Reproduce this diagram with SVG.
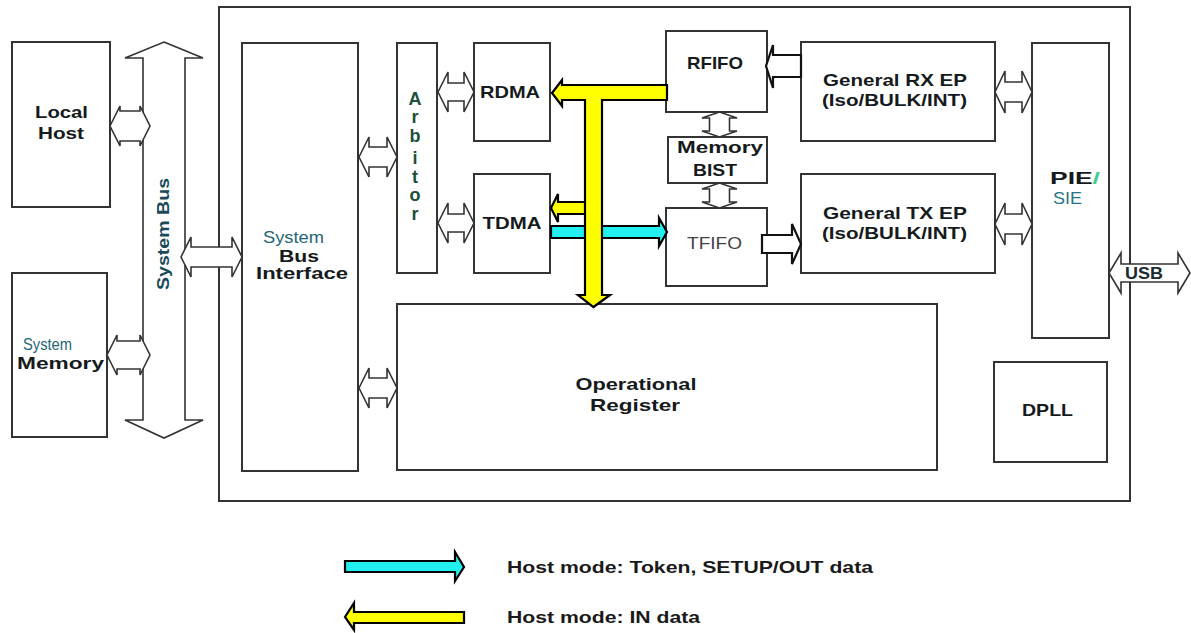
<svg xmlns="http://www.w3.org/2000/svg" width="1191" height="633" viewBox="0 0 1191 633">
<style>
.box{fill:#fff;stroke:#333;stroke-width:2}
.dbl{fill:#fff;stroke:#333;stroke-width:1.6;stroke-linejoin:miter}
.yel{fill:#ffff00;stroke:#000;stroke-width:2.2;stroke-linejoin:miter}
.cya{fill:#22f0f0;stroke:#000;stroke-width:2.2;stroke-linejoin:miter}
.t{font-family:"Liberation Sans",Arial,sans-serif;font-weight:bold;font-size:17px;fill:#151a1c;text-anchor:middle}
.n{font-family:"Liberation Sans",Arial,sans-serif;font-weight:normal;font-size:17px;text-anchor:middle}
.teal{fill:#1f6676}
.lg{font-family:"Liberation Sans",Arial,sans-serif;font-weight:bold;font-size:17px;fill:#1a1a1a}
</style>
<rect width="1191" height="633" fill="#fff"/>

<g id="chip"><rect x="219" y="7" width="911" height="494" class="box"/></g>

<g id="local-host"><rect x="12" y="42" width="98" height="165" class="box"/>
<text x="61.5" y="118" class="t" textLength="53" lengthAdjust="spacingAndGlyphs">Local</text>
<text x="61" y="139" class="t" textLength="46" lengthAdjust="spacingAndGlyphs">Host</text></g>

<g id="system-memory"><rect x="12" y="273" width="95" height="164" class="box"/>
<text x="47.5" y="350" class="n teal" textLength="49" lengthAdjust="spacingAndGlyphs">System</text>
<text x="60.5" y="369" class="t" textLength="87" lengthAdjust="spacingAndGlyphs">Memory</text></g>

<g id="system-bus">
<path d="M164,42 L203,58 L185,58 L185,420 L203,420 L164,438 L125,420 L143,420 L143,58 L125,58 Z" class="dbl"/>
<text transform="translate(169,234) rotate(-90)" x="0" y="0" class="t" style="fill:#1a4a58" textLength="112" lengthAdjust="spacingAndGlyphs">System Bus</text></g>

<g id="system-bus-interface"><rect x="242" y="43" width="116" height="428" class="box"/>
<text x="293.5" y="243" class="n teal" textLength="61" lengthAdjust="spacingAndGlyphs">System</text>
<text x="299" y="262" class="t" textLength="40" lengthAdjust="spacingAndGlyphs">Bus</text>
<text x="302" y="279" class="t" textLength="92" lengthAdjust="spacingAndGlyphs">Interface</text></g>

<g id="arbitor"><rect x="397" y="43" width="40" height="230" class="box"/>
<g class="t" style="fill:#1d4f3c;font-size:18px">
<text x="415" y="105">A</text><text x="415" y="123">r</text><text x="415" y="142">b</text><text x="415" y="164">i</text><text x="415" y="183">t</text><text x="415" y="201">o</text><text x="415" y="220">r</text></g></g>

<g id="rdma"><rect x="474" y="43" width="76" height="98" class="box"/>
<text x="510" y="98" class="t" textLength="60" lengthAdjust="spacingAndGlyphs">RDMA</text></g>

<g id="tdma"><rect x="474" y="174" width="76" height="99" class="box"/>
<text x="512" y="229" class="t" textLength="59" lengthAdjust="spacingAndGlyphs">TDMA</text></g>

<g id="rfifo"><rect x="666" y="31" width="101" height="81" class="box"/>
<text x="715" y="69" class="t" textLength="56" lengthAdjust="spacingAndGlyphs">RFIFO</text></g>

<g id="memory-bist"><rect x="668" y="137" width="99" height="46" class="box"/>
<text x="720" y="153" class="t" textLength="86" lengthAdjust="spacingAndGlyphs">Memory</text>
<text x="715" y="176" class="t" textLength="44" lengthAdjust="spacingAndGlyphs">BIST</text></g>

<g id="tfifo"><rect x="666" y="208" width="101" height="78" class="box"/>
<text x="714.5" y="249" class="n" style="fill:#444" textLength="55" lengthAdjust="spacingAndGlyphs">TFIFO</text></g>

<g id="general-rx-ep"><rect x="801" y="42" width="194" height="99" class="box"/>
<text x="895" y="86" class="t" textLength="144" lengthAdjust="spacingAndGlyphs">General RX EP</text>
<text x="894.5" y="106" class="t" textLength="145" lengthAdjust="spacingAndGlyphs">(Iso/BULK/INT)</text></g>

<g id="general-tx-ep"><rect x="801" y="174" width="194" height="99" class="box"/>
<text x="895" y="219" class="t" textLength="144" lengthAdjust="spacingAndGlyphs">General TX EP</text>
<text x="894.5" y="239" class="t" textLength="145" lengthAdjust="spacingAndGlyphs">(Iso/BULK/INT)</text></g>

<g id="pie-sie"><rect x="1032" y="43" width="77" height="295" class="box"/>
<text x="1050" y="184" class="t" style="text-anchor:start" textLength="50" lengthAdjust="spacingAndGlyphs">PIE<tspan style="fill:#3fcf8f">/</tspan></text>
<text x="1067.5" y="204" class="n" style="fill:#2a7585" textLength="29" lengthAdjust="spacingAndGlyphs">SIE</text></g>

<g id="dpll"><rect x="994" y="362" width="113" height="100" class="box"/>
<text x="1047.5" y="416" class="t" textLength="51" lengthAdjust="spacingAndGlyphs">DPLL</text></g>

<g id="operational-register"><rect x="397" y="304" width="540" height="166" class="box"/>
<text x="636" y="390" class="t" textLength="121" lengthAdjust="spacingAndGlyphs">Operational</text>
<text x="635" y="411" class="t" textLength="90" lengthAdjust="spacingAndGlyphs">Register</text></g>

<g id="connectors">
<path d="M110,126 L120,106 L120,111 L140,111 L140,106 L150,126 L140,146 L140,141 L120,141 L120,146 Z" class="dbl"/>
<path d="M107,355 L117,335 L117,341 L140,341 L140,335 L150,355 L140,375 L140,369 L117,369 L117,375 Z" class="dbl"/>
<path d="M181,257 L191,237 L191,247 L232,247 L232,237 L242,257 L232,277 L232,267 L191,267 L191,277 Z" class="dbl"/>
<path d="M359,157 L369,137 L369,147 L387,147 L387,137 L397,157 L387,177 L387,167 L369,167 L369,177 Z" class="dbl"/>
<path d="M359,388 L369,368 L369,378 L387,378 L387,368 L397,388 L387,408 L387,398 L369,398 L369,408 Z" class="dbl"/>
<path d="M438,92 L448,72 L448,83 L464,83 L464,72 L474,92 L464,112 L464,101 L448,101 L448,112 Z" class="dbl"/>
<path d="M438,223 L448,203 L448,214 L464,214 L464,203 L474,223 L464,243 L464,232 L448,232 L448,243 Z" class="dbl"/>
<path d="M995,92 L1005,71 L1005,82 L1022,82 L1022,71 L1032,92 L1022,113 L1022,102 L1005,102 L1005,113 Z" class="dbl"/>
<path d="M995,224 L1005,203 L1005,214 L1022,214 L1022,203 L1032,224 L1022,245 L1022,234 L1005,234 L1005,245 Z" class="dbl"/>
<path d="M1109,273 L1121,253 L1121,264 L1178,264 L1178,253 L1190,273 L1178,293 L1178,282 L1121,282 L1121,293 Z" class="dbl"/>
<text x="1144" y="279" class="t" style="fill:#1a2a30" textLength="38" lengthAdjust="spacingAndGlyphs">USB</text>
<path d="M719.5,112 L737,118 L729.5,118 L729.5,131 L737,131 L719.5,137 L702,131 L709.5,131 L709.5,118 L702,118 Z" class="dbl"/>
<path d="M719.5,183 L737,189 L729.5,189 L729.5,202 L737,202 L719.5,208 L702,202 L709.5,202 L709.5,189 L702,189 Z" class="dbl"/>
<path d="M801,55 L773,55 L773,45 L766,66 L773,88 L773,77 L801,77 Z" fill="#fff" stroke="#111" stroke-width="2.2"/>
<path d="M762,235 L792,235 L792,224 L801,244 L792,264 L792,253 L762,253 Z" fill="#fff" stroke="#111" stroke-width="2.2"/>
<path d="M590,202 L558,202 L558,194 L551,208 L558,222 L558,214 L590,214 Z" class="yel"/>
<path d="M551,226 L659,226 L659,218 L667,232 L659,246 L659,238 L551,238 Z" class="cya"/>
<path d="M667,85 L562,85 L562,80 L552,93 L562,106 L562,100 L585,100 L585,295 L578,295 L593.5,307 L610,295 L602,295 L602,100 L667,100 Z" class="yel"/>
</g>

<g id="legend">
<path d="M345,561 L455,561 L455,552 L464,567 L455,581 L455,572 L345,572 Z" class="cya"/>
<text x="507" y="573" class="lg" textLength="366" lengthAdjust="spacingAndGlyphs">Host mode: Token, SETUP/OUT data</text>
<path d="M464,612 L354,612 L354,603 L345,617 L354,630 L354,623 L464,623 Z" class="yel"/>
<text x="507" y="623" class="lg" textLength="193" lengthAdjust="spacingAndGlyphs">Host mode: IN data</text>
</g>
</svg>
